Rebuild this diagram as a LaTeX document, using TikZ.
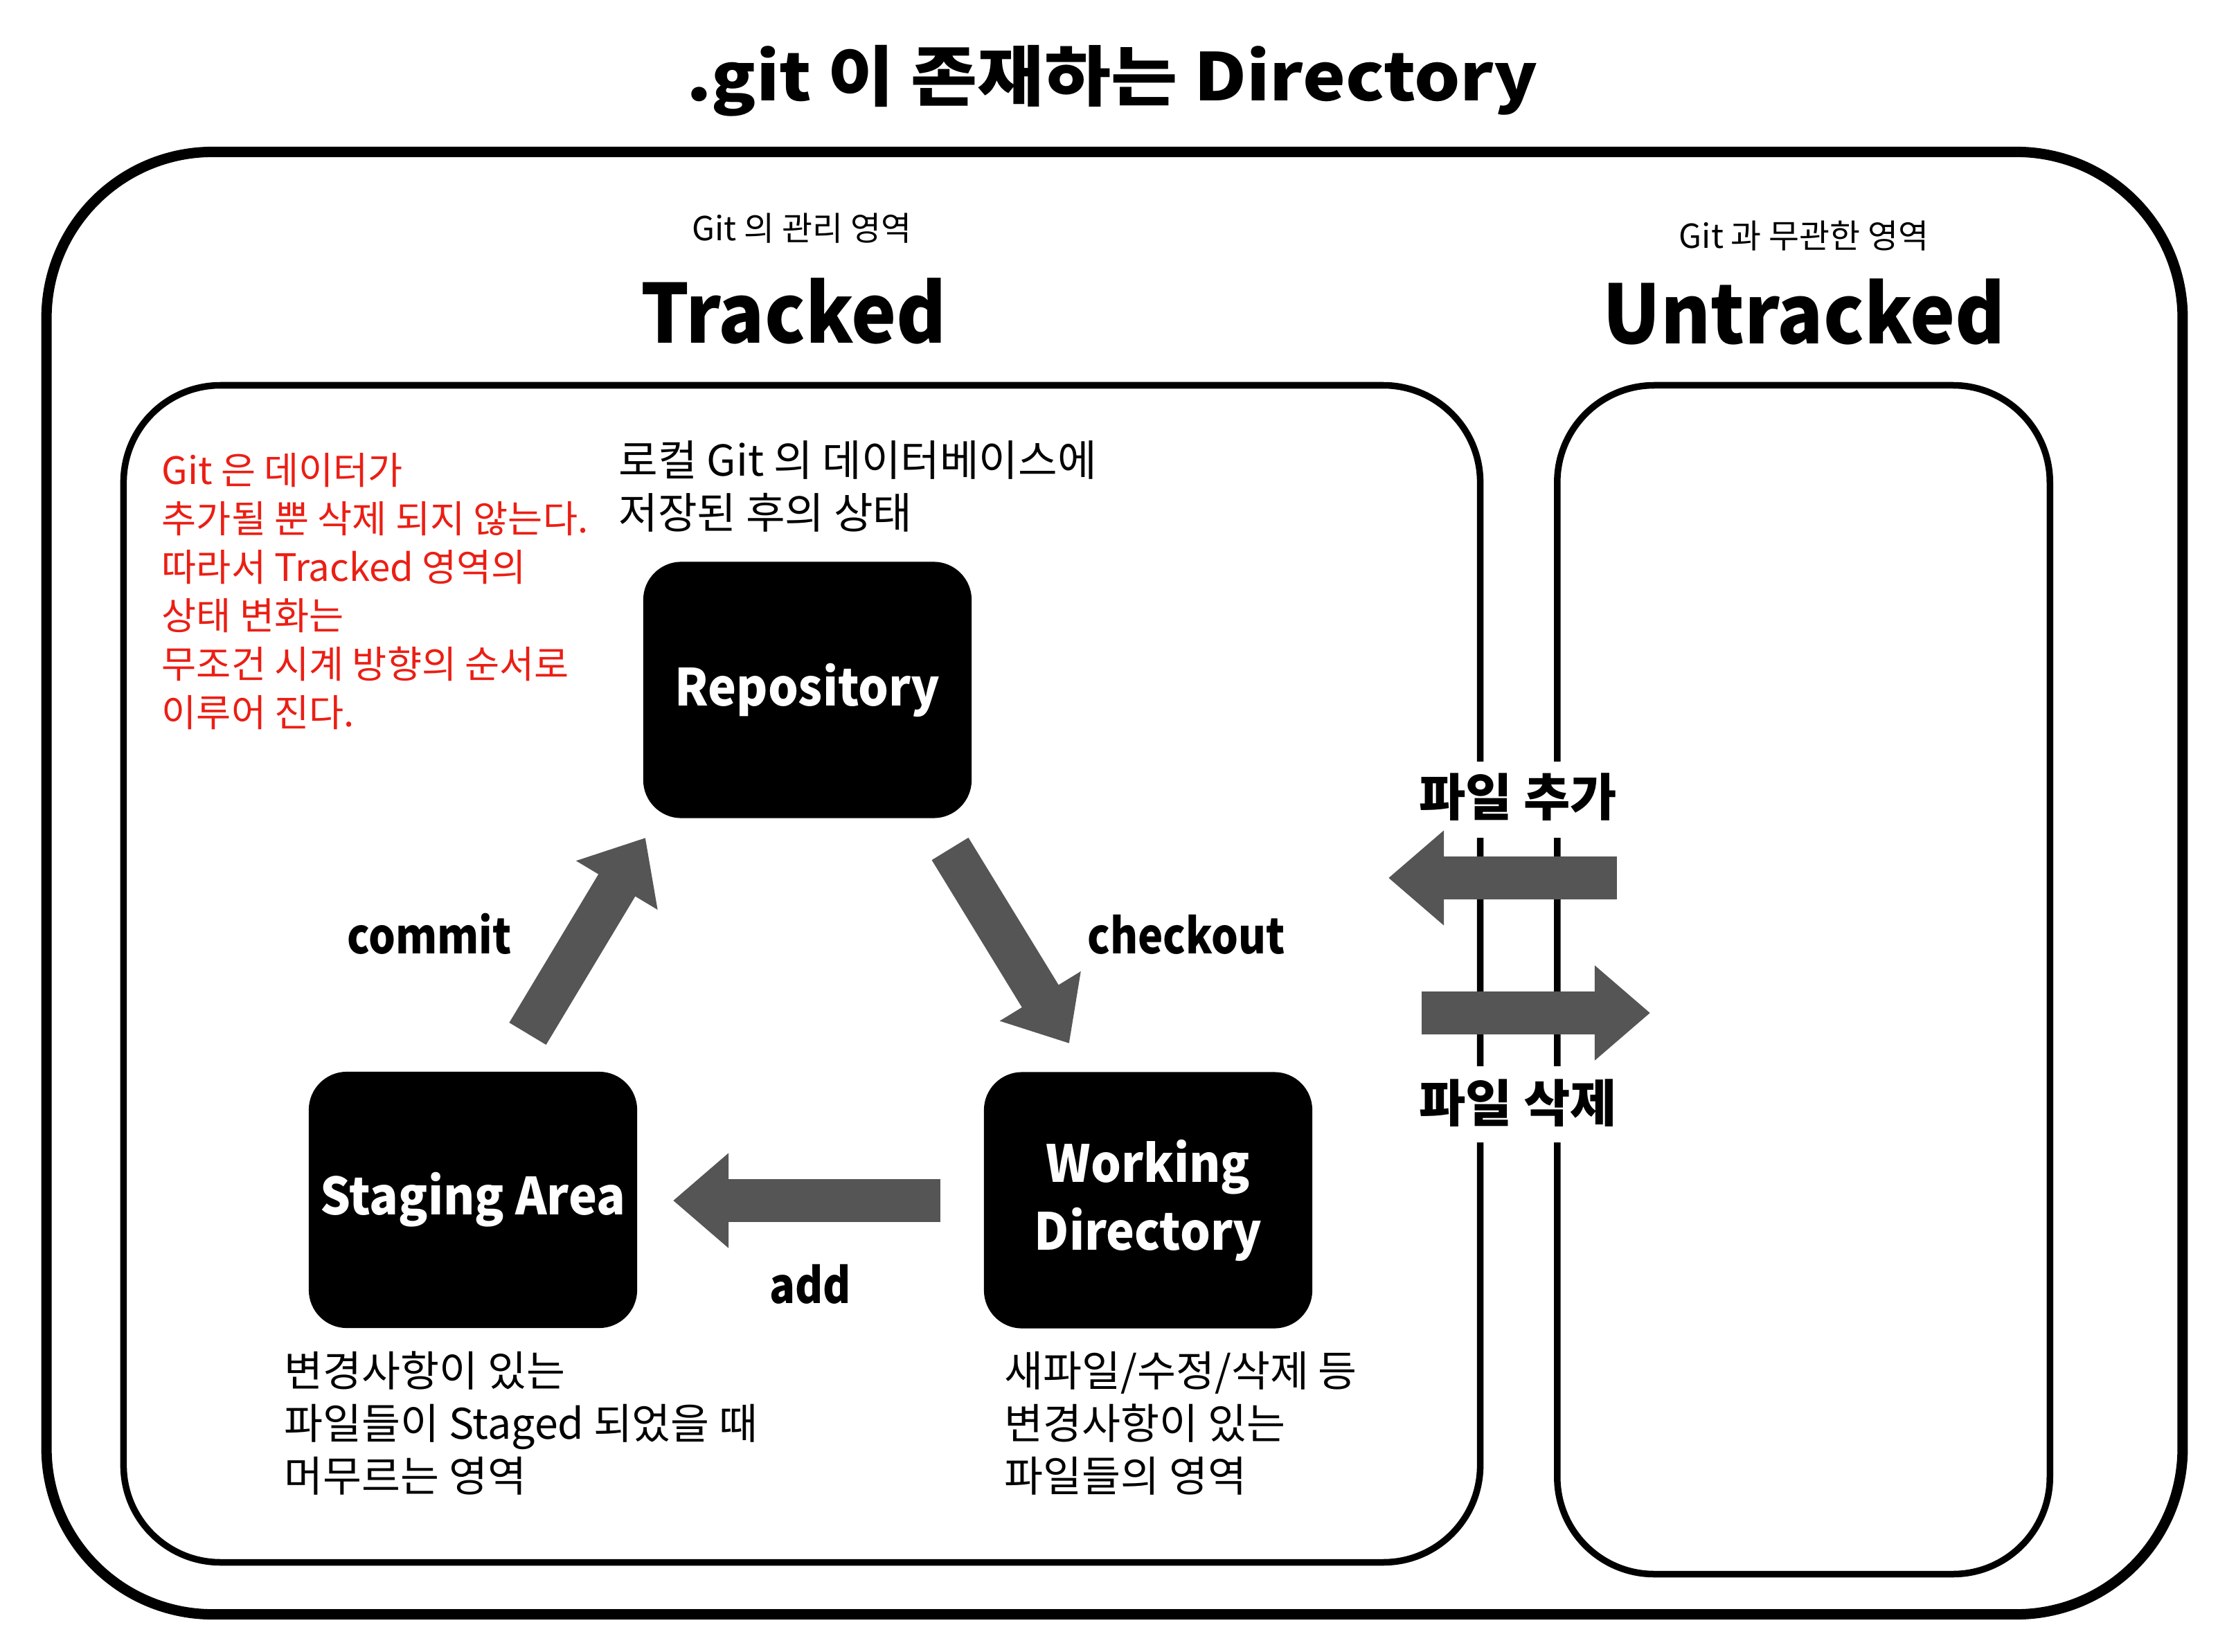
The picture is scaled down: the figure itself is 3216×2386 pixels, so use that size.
\documentclass[tikz,border=0pt]{standalone}
\usepackage{fontspec}
\setmainfont{Noto Sans CJK KR}
\newfontfamily\widef{Noto Sans CJK KR}[FakeStretch=1.1]
\newfontfamily\narrowf{Noto Sans CJK KR}[FakeStretch=0.935]
\newfontfamily\vnarrowf{Noto Sans CJK KR}[FakeStretch=0.87]
\usetikzlibrary{arrows.meta}
\definecolor{arrgray}{RGB}{85,85,85}
\definecolor{notered}{RGB}{235,30,20}
\begin{document}
\begin{tikzpicture}[x=0.01cm,y=-0.01cm,
  frame/.style={draw=black, line width=0.15cm, rounded corners=2.4cm, inner sep=0},
  region/.style={draw=black, line width=0.095cm, rounded corners=1.4cm, inner sep=0},
  stage/.style={fill=black, text=white, rounded corners=0.55cm, minimum width=4.74cm, minimum height=3.7cm, inner sep=0, align=center, font=\narrowf\bfseries\fontsize{21pt}{27.9pt}\selectfont},
  fat/.style={draw=arrgray, line width=0.62cm, -{Triangle[width=1.32cm,length=0.8cm]}},
  txt/.style={inner sep=0, anchor=base},
  redtxt/.style={inner sep=0, anchor=base west, text=notered, font=\fontsize{15.5pt}{19pt}\selectfont},
  desc/.style={inner sep=0, anchor=base west, font=\fontsize{17.3pt}{21pt}\selectfont},
  note/.style={inner sep=0, anchor=base west, font=\fontsize{17.5pt}{21pt}\selectfont},
  small/.style={inner sep=0, anchor=base, font=\fontsize{13.6pt}{16pt}\selectfont},
  big/.style={inner sep=0, anchor=base, font=\narrowf\bfseries\fontsize{33.4pt}{40pt}\selectfont},
  verb/.style={inner sep=0, anchor=base, font=\vnarrowf\bfseries\fontsize{20pt}{24pt}\selectfont},
  filelab/.style={inner sep=0, anchor=base, fill=white, font=\bfseries\fontsize{20.8pt}{25pt}\selectfont}
]
\useasboundingbox (0,0) rectangle (3216,2386);

% title
\node[txt, font=\widef\bfseries\fontsize{27pt}{32pt}\selectfont] (title) at (1606,146) {.git 이 존재하는 Directory};

% containers
\node[frame, minimum width=30.83cm, minimum height=21.11cm] (outer) at (1609.5,1275.5) {};
\node[region, minimum width=19.58cm, minimum height=16.99cm] (tracked) at (1158,1406.5) {};
\node[region, minimum width=7.11cm, minimum height=17.16cm] (untracked) at (2604.5,1415) {};

% headings
\node[small] (tsub) at (1158,348) {Git 의 관리 영역};
\node[big] (thead) at (1146,496) {Tracked};
\node[small] (usub) at (2605,359) {Git 과 무관한 영역};
\node[big] (uhead) at (2605,497) {Untracked};

% red note
\foreach \t [count=\i from 0] in {Git 은 데이터가, 추가될 뿐 삭제 되지 않는다., 따라서 Tracked 영역의, 상태 변화는, 무조건 시계 방향의 순서로, 이루어 진다.}
  \node[redtxt] (red\i) at (233,{700+70*\i}) {\t};

% repository note
\node[note] (rnote0) at (893,688) {로컬 Git 의 데이터베이스에};
\node[note] (rnote1) at (893,764) {저장된 후의 상태};

% stages
\node[stage] (repo) at (1166,996.5) {Repository};
\node[stage] (staging) at (683,1733) {Staging Area};
\node[stage] (working) at (1658,1733.5) {Working\\Directory};

% descriptions
\foreach \t [count=\i from 0] in {변경사항이 있는, 파일들이 Staged 되었을 때, 머무르는 영역}
  \node[desc] (sdesc\i) at (410,{2002+76*\i}) {\t};
\foreach \t [count=\i from 0] in {새파일/수정/삭제 등, 변경사항이 있는, 파일들의 영역}
  \node[desc] (wdesc\i) at (1450,{2002+76*\i}) {\t};

% file labels (cut the walls)
\node[filelab, text height=0.78cm, text depth=0.32cm] (fadd) at (2192,1178) {파일 추가};
\node[filelab, text height=0.80cm, text depth=0.30cm] (fdel) at (2192,1620) {파일 삭제};

% arrows
\coordinate (cmS) at (762,1493);  \coordinate (cmE) at (932,1210);
\coordinate (coS) at (1372,1226); \coordinate (coE) at (1544,1507);
\coordinate (adS) at (1358,1734); \coordinate (adE) at (972,1734);
\coordinate (faS) at (2335,1268); \coordinate (faE) at (2005,1268);
\coordinate (fdS) at (2053,1463); \coordinate (fdE) at (2383,1463);
\draw[fat] (cmS) -- (cmE);
\draw[fat] (coS) -- (coE);
\draw[fat] (adS) -- (adE);
\draw[fat] (faS) -- (faE);
\draw[fat] (fdS) -- (fdE);

% arrow labels
\node[verb] (lcommit) at (620,1377) {commit};
\node[verb] (lcheckout) at (1713,1377) {checkout};
\node[verb] (ladd) at (1170,1882) {add};
\end{tikzpicture}
\end{document}
